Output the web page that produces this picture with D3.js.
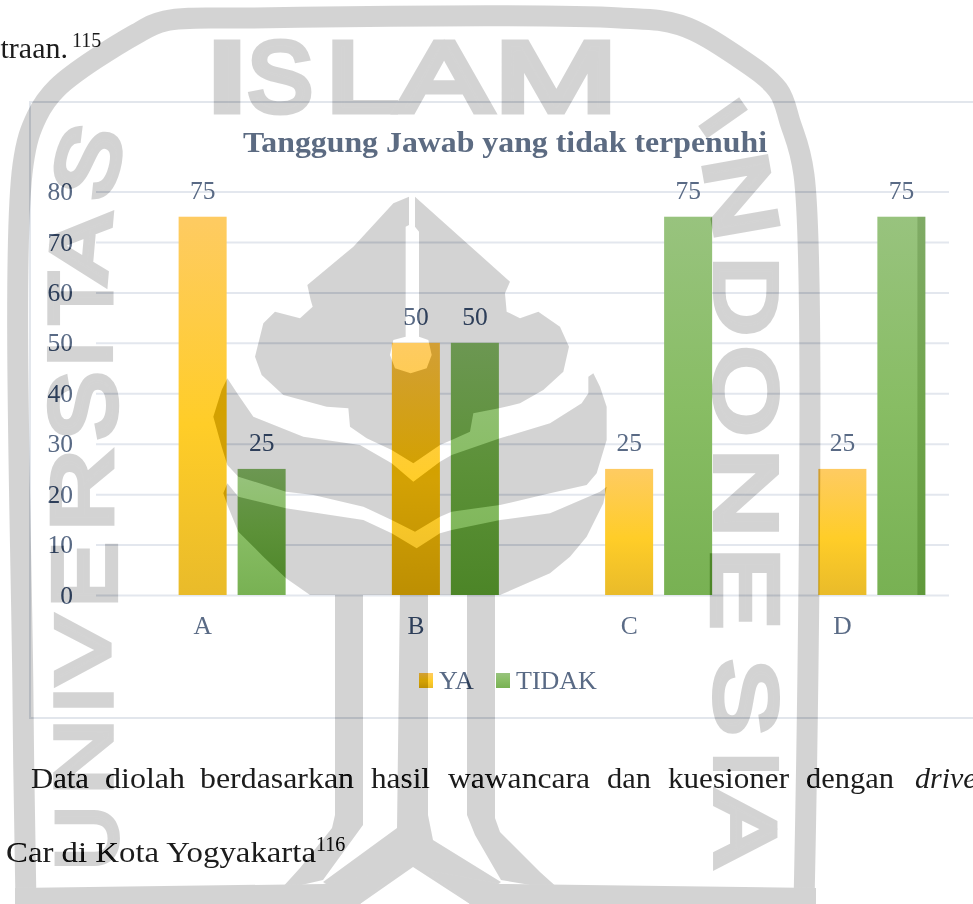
<!DOCTYPE html>
<html>
<head>
<meta charset="utf-8">
<script src="https://cdnjs.cloudflare.com/ajax/libs/d3/7.8.5/d3.min.js"></script>
<style>
  html, body { margin: 0; padding: 0; background: #fff; overflow: hidden; }
  svg { display: block; font-family: "Liberation Serif", serif; }
  .grid line { stroke: #e3e7ee; stroke-width: 2; }
  .grid path, .axis path { display: none; }
  .axis { font-family: "Liberation Serif", serif; }
  .axis text, .label, .legend text { fill: #596a85; font-size: 25.5px; }
  .body-text { fill: #1c1c1c; font-size: 30px; }
  .seal { mix-blend-mode: difference; }
</style>
</head>
<body>
<svg id="chart" width="973" height="904"></svg>
<script>
const categories = ["A", "B", "C", "D"];
// the source chart keeps an empty first slot in each group, so YA sits on the label
const slots = ["", "YA", "TIDAK"];
const series = ["YA", "TIDAK"];
const ya = [75, 50, 25, 25];
const tidak = [25, 50, 75, 75];
const yTicks = [0, 10, 20, 30, 40, 50, 60, 70, 80];
const values = { YA: ya, TIDAK: tidak };

const svg = d3.select("#chart"),
  margin = { top: 191.5, left: 96, right: 24, bottom: 309 },
  width = +svg.attr("width") - margin.left - margin.right,
  height = +svg.attr("height") - margin.top - margin.bottom;

const defs = svg.append("defs");
function gradient(id, stops) {
  const g = defs.append("linearGradient").attr("id", id).attr("x2", 0).attr("y2", 1);
  stops.forEach(([o, c]) => g.append("stop").attr("offset", o).attr("stop-color", c));
}
gradient("gradYA", [[0, "#fecb62"], [0.55, "#ffcd28"], [1, "#e9bb2a"]]);
gradient("gradTIDAK", [[0, "#98c37e"], [0.5, "#88bd64"], [1, "#78b153"]]);
const fillOf = (s) => `url(#grad${s})`;

svg.append("rect").attr("width", 973).attr("height", 904).attr("fill", "#fff");

// chart frame, runs off the right edge
svg.append("rect")
  .attr("x", 30).attr("y", 102).attr("width", 1000).attr("height", 616)
  .attr("fill", "none").attr("stroke", "#e2e6ec").attr("stroke-width", 2);

const x = d3.scaleBand().domain(categories).range([0, width]);
const x1 = d3.scaleBand().domain(slots)
  .range([-88.5, 88.5]).paddingInner(0.186).paddingOuter(0.093);
const y = d3.scaleLinear().domain([0, 80]).range([height, 0]);

const g = svg.append("g").attr("transform", `translate(${margin.left},${margin.top})`);

g.append("g").attr("class", "grid")
  .call(d3.axisLeft(y).tickValues(yTicks).tickSize(-width).tickFormat(""));

g.append("g").attr("class", "axis")
  .call(d3.axisLeft(y).tickValues(yTicks).tickSize(0).tickPadding(23))
  .attr("font-family", "Liberation Serif");

g.append("g").attr("class", "axis")
  .attr("transform", `translate(0,${height})`)
  .call(d3.axisBottom(x).tickSize(0).tickPadding(21))
  .attr("font-family", "Liberation Serif");

series.forEach((s) => {
  const left = (i) => x(categories[i]) + x.bandwidth() / 2 + x1(s);
  g.selectAll(`.bar-${s}`)
    .data(values[s])
    .enter()
    .append("rect")
    .attr("class", `bar-${s}`)
    .attr("x", (d, i) => left(i))
    .attr("y", (d) => y(d))
    .attr("width", x1.bandwidth())
    .attr("height", (d) => height - y(d))
    .attr("fill", fillOf(s));

  g.selectAll(`.label-${s}`)
    .data(values[s])
    .enter()
    .append("text")
    .attr("class", `label label-${s}`)
    .attr("x", (d, i) => left(i) + x1.bandwidth() / 2)
    .attr("y", (d) => y(d) - 18)
    .attr("text-anchor", "middle")
    .text((d) => d);
});

// title
svg.append("text")
  .attr("x", 505).attr("y", 152)
  .attr("text-anchor", "middle")
  .attr("font-size", 30).attr("font-weight", "bold").attr("fill", "#5c6b82")
  .attr("textLength", 524).attr("lengthAdjust", "spacingAndGlyphs")
  .text("Tanggung Jawab yang tidak terpenuhi");

// legend
const legend = svg.append("g").attr("class", "legend");
[[419, 439], [496, 516]].forEach(([sx, tx], i) => {
  legend.append("rect").attr("x", sx).attr("y", 673).attr("width", 14).attr("height", 15)
    .attr("fill", fillOf(series[i]));
  legend.append("text").attr("x", tx).attr("y", 689)
    .style("font-size", "26px").text(series[i]);
});

// page text around the chart, the first line is justified so each word is placed
const line1Words = ["Data", "diolah", "berdasarkan", "hasil", "wawancara", "dan", "kuesioner", "dengan"];
const line1X = [31, 105, 200, 371, 448, 607, 668, 806];
const line1W = [58, 80, 154, 59, 142, 44, 121, 88];
line1Words.forEach((w, i) => {
  svg.append("text").attr("class", "body-text")
    .attr("x", line1X[i]).attr("y", 788)
    .attr("textLength", line1W[i]).attr("lengthAdjust", "spacingAndGlyphs")
    .text(w);
});
svg.append("text").attr("class", "body-text")
  .attr("x", 915).attr("y", 788).attr("font-style", "italic").text("driver");
svg.append("text").attr("class", "body-text")
  .attr("x", 68).attr("y", 58).attr("text-anchor", "end").text("traan.");
svg.append("text").attr("class", "body-text")
  .attr("x", 72).attr("y", 47).style("font-size", "20px").text("115");
svg.append("text").attr("class", "body-text")
  .attr("x", 6).attr("y", 862)
  .attr("textLength", 310).attr("lengthAdjust", "spacingAndGlyphs")
  .text("Car di Kota Yogyakarta");
svg.append("text").attr("class", "body-text")
  .attr("x", 316).attr("y", 851).style("font-size", "20px").text("116");

// university seal watermark, laid over everything like in the scanned page
const seal = svg.append("g").attr("class", "seal");
const sealInk = "#2c2c2c";

// shade strip on the last bar, also part of the page scan
svg.append("rect")
  .style("mix-blend-mode", "difference")
  .attr("x", margin.left + x("D") + x.bandwidth() / 2 + x1("TIDAK") + x1.bandwidth() - 8)
  .attr("y", margin.top + y(75))
  .attr("width", 8)
  .attr("height", height - y(75))
  .attr("fill", "#181818");

const ring = [[26, 904], [23, 700], [23, 165], [37, 116], [57, 88], [136, 34], [165, 21], [250, 18],
  [620, 18], [680, 25], [735, 55], [778, 90], [790, 122], [804, 175], [804, 904]];
seal.append("path")
  .attr("d", d3.line().curve(d3.curveCatmullRom)(ring))
  .attr("fill", "none").attr("stroke", sealInk).attr("stroke-width", 21);

// shapes traced at 3x from the logo crop, origin at (220,190)
const fromCrop = (pts) => pts.map(([a, b]) => [220 + a / 3, 190 + b / 3]);
const leaf = [[567, 20], [520, 40], [400, 170], [262, 285], [272, 330], [278, 350], [240, 385], [165, 365],
  [130, 400], [105, 500], [125, 555], [190, 615], [320, 650], [385, 655], [390, 710], [440, 745], [515, 780],
  [580, 820], [660, 765], [695, 750], [750, 725], [760, 670], [837, 655], [900, 640], [970, 600], [1030, 545],
  [1047, 470], [1020, 410], [955, 365], [900, 385], [860, 365], [855, 310], [870, 275], [730, 150], [585, 20],
  [585, 110], [597, 125], [597, 440], [625, 450], [635, 495], [620, 535], [572, 550], [525, 535], [510, 495],
  [520, 450], [557, 440], [557, 110], [567, 105]];
const midBand = [[22, 565], [55, 615], [100, 680], [250, 740], [420, 765], [515, 820], [580, 875], [660, 815],
  [695, 795], [840, 745], [990, 700], [1085, 640], [1105, 610], [1105, 560], [1120, 550], [1140, 590],
  [1160, 650], [1160, 750], [1130, 850], [1100, 885], [990, 910], [840, 945], [695, 965], [660, 980],
  [585, 1025], [515, 990], [430, 950], [280, 915], [198, 905], [55, 860], [22, 825], [5, 770], [-20, 680], [5, 600]];
const bowl = [[22, 880], [55, 920], [198, 955], [430, 990], [515, 1030], [590, 1075], [660, 1030], [695, 1020],
  [840, 990], [990, 970], [1140, 905], [1160, 890], [1150, 940], [1100, 1040], [1050, 1100], [990, 1150],
  [840, 1215], [270, 1215], [198, 1165], [130, 1100], [55, 1025], [22, 945], [10, 910]];
const stems = [
  [[335, 590], [363, 590], [363, 825], [323, 880], [280, 890], [300, 868], [332, 828], [335, 815]],
  [[400, 590], [428, 590], [428, 815], [433, 840], [501, 882], [470, 904], [413, 867], [360, 904], [323, 882], [397, 828]],
  [[467, 590], [495, 590], [495, 818], [500, 832], [540, 872], [560, 890], [501, 880], [475, 835], [467, 815]],
  [[15, 888], [323, 884], [400, 870], [360, 904], [15, 904]],
  [[816, 888], [501, 884], [426, 870], [470, 904], [816, 904]]
];
[fromCrop(leaf), fromCrop(midBand), fromCrop(bowl), ...stems].forEach((pts) => {
  seal.append("path").attr("d", d3.line()(pts) + "Z").attr("fill", sealInk);
});

// seal lettering: [char, centre x, centre y, rotation, run length, cap height]
const sealLetters = [
  ["I", 227, 77, 0, 26, 75], ["S", 280, 77, 0, 64, 75], ["L", 362, 77, 0, 72, 75],
  ["A", 444, 77, 0, 92, 75], ["M", 556, 77, 0, 118, 75],
  ["U", 87, 838, -90, 62, 64], ["N", 84, 757, -90, 73, 60], ["I", 84, 700, -90, 15, 60],
  ["V", 83, 650, -90, 66, 57], ["E", 84, 575, -90, 63, 68], ["R", 82, 490, -90, 80, 64],
  ["S", 83, 406, -90, 67, 70], ["I", 80, 354, -90, 15, 66], ["T", 80, 298, -90, 52, 66],
  ["A", 80, 247, -85, 68, 62], ["S", 88, 162, -75, 70, 65],
  ["I", 723, 118, 55, 15, 50], ["N", 741, 196, 80, 82, 68], ["D", 746, 296, 90, 77, 66],
  ["O", 746, 391, 90, 87, 66], ["N", 746, 493, 90, 87, 66], ["E", 745, 588, 90, 80, 70],
  ["S", 746, 697, 90, 75, 66], ["I", 746, 764, 90, 14, 66], ["A", 745, 829, 90, 72, 64]
];
const sealStroke = 7;
sealLetters.forEach(([ch, cx, cy, rot, len, cap]) => {
  const t = seal.append("text")
    .attr("font-family", "Liberation Sans")
    .attr("font-size", 100)
    .attr("fill", sealInk)
    .attr("stroke", sealInk)
    .attr("stroke-width", sealStroke)
    .attr("text-anchor", "middle")
    .attr("y", 34.4)
    .text(ch);
  const w = t.node().getComputedTextLength();
  const inkW = ch === "I" ? 9 + sealStroke : w * 0.88 + sealStroke;
  t.attr("transform", `translate(${cx},${cy}) rotate(${rot}) scale(${len / inkW},${cap / (68.8 + sealStroke)})`);
});
</script>
</body>
</html>
